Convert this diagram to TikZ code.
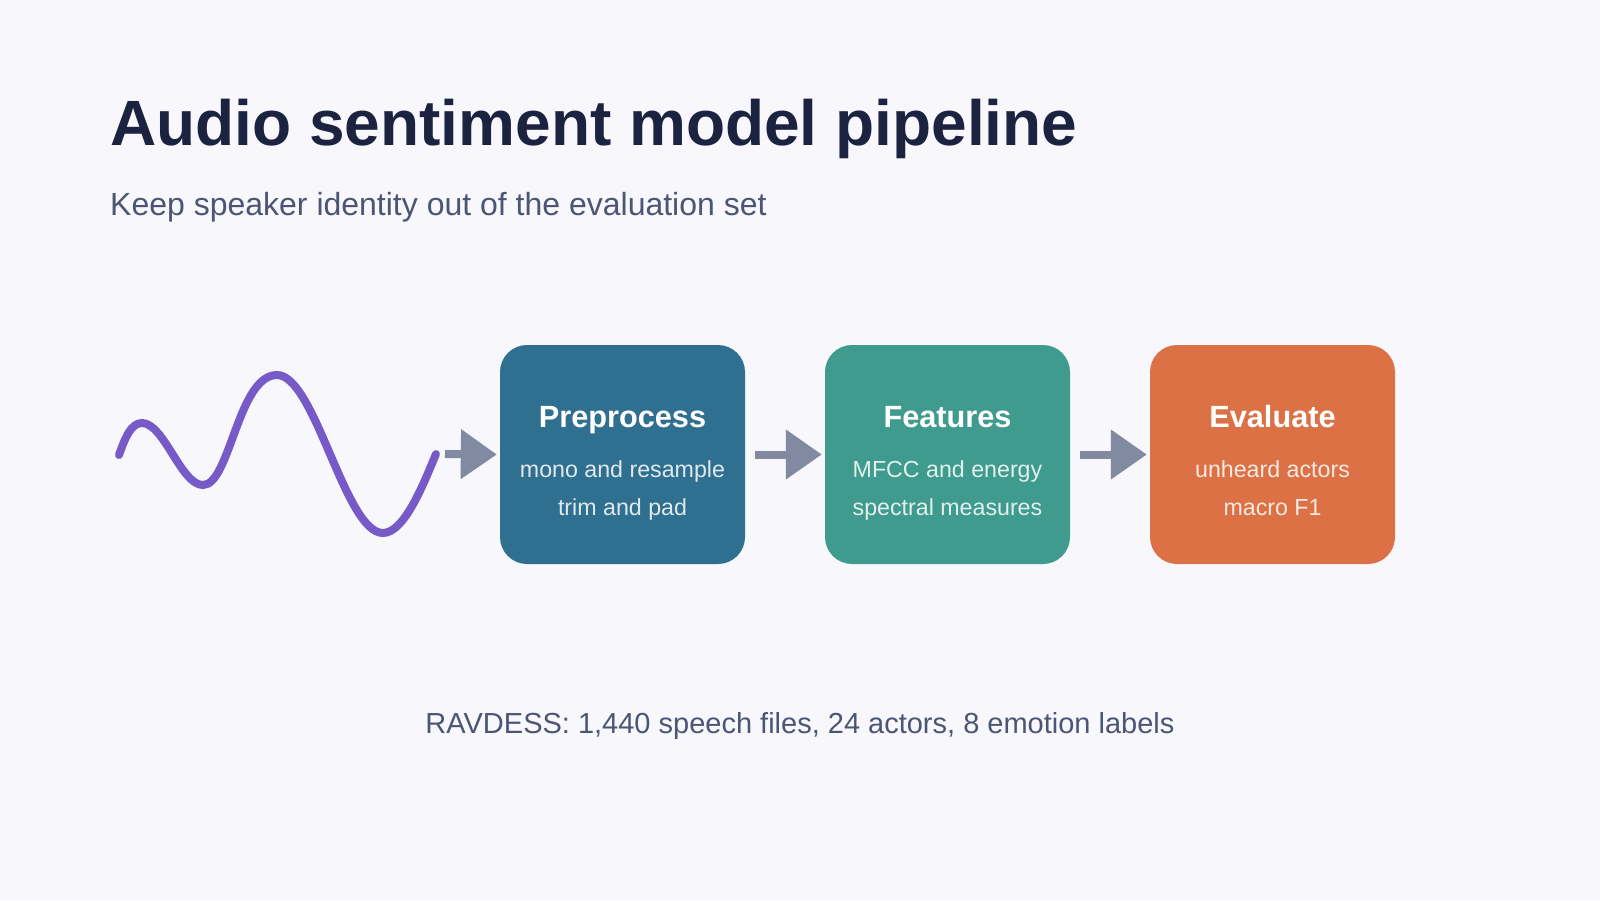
\documentclass[tikz,border=0pt]{standalone}
\usepackage{fontspec}
\setmainfont{Liberation Sans}
\usetikzlibrary{arrows.meta}
\definecolor{bg}{HTML}{F7F7FC}
\definecolor{titlec}{HTML}{1B2340}
\definecolor{subc}{HTML}{4C5674}
\definecolor{boxa}{HTML}{2F6F8F}
\definecolor{boxb}{HTML}{3F9B8D}
\definecolor{boxc}{HTML}{DB7145}
\definecolor{arrc}{HTML}{818AA0}
\definecolor{wavec}{HTML}{765BC8}
\tikzset{
  stagebox/.style={draw=none, minimum width=245pt, minimum height=219pt, rounded corners=27pt, inner sep=0pt},
  headtxt/.style={anchor=base, text=white, font=\fontsize{30.7}{36}\selectfont\bfseries, inner sep=0pt},
  bodytxt/.style={anchor=base, text=white, text opacity=0.85, font=\fontsize{23.2}{27}\selectfont, inner sep=0pt},
  flowarrow/.style={draw=arrc, line width=8pt, -{Triangle[length=36pt,width=48pt]}},
}
\begin{document}
\begin{tikzpicture}[x=1pt,y=-1pt]
\fill[bg] (0,0) rectangle (1600,900);
\useasboundingbox (0,0) rectangle (1600,900);

\node[anchor=base west, inner sep=0pt, text=titlec, font=\fontsize{64}{72}\selectfont\bfseries] (title) at (110,145) {Audio sentiment model pipeline};
\node[anchor=base west, inner sep=0pt, text=subc, font=\fontsize{32}{38}\selectfont] (subtitle) at (110,215) {Keep speaker identity out of the evaluation set};

% wave
\draw[wavec, line width=8pt, line cap=round]
  (119,455) .. controls (125,438) and (131,423) .. (142,423)
  .. controls (164,423) and (181,485) .. (203,485)
  .. controls (230,485) and (238,375) .. (277,375)
  .. controls (315,375) and (345,533) .. (383,533)
  .. controls (405,533) and (425,480) .. (436,454);
\coordinate (wend) at (436,454);

\node[stagebox, fill=boxa] (pre) at (622.5,454.5) {};
\node[stagebox, fill=boxb] (feat) at (947.5,454.5) {};
\node[stagebox, fill=boxc] (eval) at (1272.5,454.5) {};

\node[headtxt] (preh) at ([yshift=27.5pt]pre.center) {Preprocess};
\node[bodytxt] (pre1) at ([yshift=-22.5pt]pre.center) {mono and resample};
\node[bodytxt] (pre2) at ([yshift=-60.5pt]pre.center) {trim and pad};

\node[headtxt] (feath) at ([yshift=27.5pt]feat.center) {Features};
\node[bodytxt] (feat1) at ([yshift=-22.5pt]feat.center) {MFCC and energy};
\node[bodytxt] (feat2) at ([yshift=-60.5pt]feat.center) {spectral measures};

\node[headtxt] (evalh) at ([yshift=27.5pt]eval.center) {Evaluate};
\node[bodytxt] (eval1) at ([yshift=-22.5pt]eval.center) {unheard actors};
\node[bodytxt] (eval2) at ([yshift=-60.5pt]eval.center) {macro F1};

\draw[flowarrow] ([xshift=9pt]wend) -- ([xshift=-3pt]pre.west);
\draw[flowarrow] ([xshift=10pt]pre.east) -- ([xshift=-3pt]feat.west);
\draw[flowarrow] ([xshift=10pt]feat.east) -- ([xshift=-3pt]eval.west);

\node[anchor=base, inner sep=0pt, text=subc, font=\fontsize{29}{34}\selectfont] (foot) at (800,733) {RAVDESS: 1,440 speech files, 24 actors, 8 emotion labels};
\end{tikzpicture}
\end{document}
